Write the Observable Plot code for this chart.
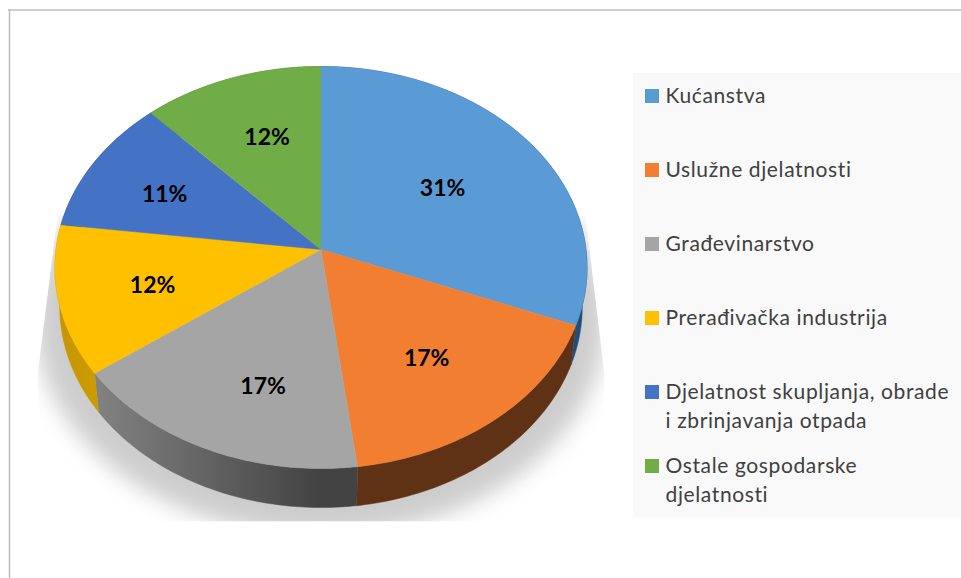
<!DOCTYPE html>
<html>
<head>
<meta charset="utf-8">
<style>html,body{margin:0;padding:0;background:#fff;overflow:hidden}svg{display:block}</style>
<script src="https://cdn.jsdelivr.net/npm/d3@7"></script>
<script src="https://cdn.jsdelivr.net/npm/@observablehq/plot@0.6"></script>
</head>
<body>
<div id="chart"></div>
<script>
const categories = ["Kućanstva", "Uslužne djelatnosti", "Građevinarstvo", "Prerađivačka industrija", "Djelatnost skupljanja, obrade\ni zbrinjavanja otpada", "Ostale gospodarske\ndjelatnosti"];
const shares = [31, 17, 17, 12, 11, 12];
const topColors = ["#5b9bd5", "#f27e32", "#a5a5a5", "#ffc000", "#4472c4", "#70ad47"];
const wallColors = ["#1f4e79", "#603215", "url(#greyWall)", "url(#goldWall)", "#2f4f8f", "#4b7530"];
const labelTurns = [0.1564, 0.3997, 0.549, 0.706, 0.8197, 0.9447];
const labelRadii = [0.567, 0.645, 0.679, 0.65, 0.668, 0.629];

// Perspective disc: apex of the wedges and the tilt of the pie
const cx = 320.5, cy = 249, rx = 265, ry = 199.4, tilt = 0.0896, depth = 39, wallShrink = 0.982;

function disc(turn, r = 1) {
  const a = turn * 2 * Math.PI, u = r * Math.sin(a), v = r * Math.cos(a), d = 1 + tilt * v;
  return {X: rx * u / d, Y: -ry * v / d};
}
const upper = (turn, r) => { const p = disc(turn, r); return {x: cx + p.X, y: cy + p.Y}; };
const lower = (turn) => { const p = disc(turn); return {x: cx + p.X * wallShrink, y: cy + p.Y + depth}; };

function arcTurns(t0, t1) {
  const n = Math.max(2, Math.ceil((t1 - t0) * 400));
  return d3.range(n + 1).map(i => t0 + (t1 - t0) * i / n);
}

const total = d3.sum(shares);
const ends = Array.from(d3.cumsum(shares), c => c / total);
const starts = ends.map((_, i) => i ? ends[i - 1] : 0);

const slices = shares.map((_, i) => {
  const turns = arcTurns(starts[i], ends[i]);
  return {
    face: [{x: cx, y: cy}, ...turns.map(t => upper(t))],
    wall: [...turns.map(t => upper(t)), ...turns.slice().reverse().map(t => lower(t))],
    color: topColors[i],
    wallColor: wallColors[i]
  };
});

// Soft shadow under the pie
const shadowOutline = arcTurns(0, 1).map(t => {
  const a = t * 2 * Math.PI;
  return {x: 320 + 285 * Math.sin(a), y: 320 - 215 * Math.cos(a)};
});

const labels = shares.map((s, i) => ({...upper(labelTurns[i], labelRadii[i]), text: s + "%"}));
const legend = categories.map((name, i) => ({
  name, color: topColors[i],
  x1: 645, x2: 659, y1: 89 + 74 * i, y2: 103 + 74 * i, tx: 665, ty: 82.5 + 74 * i
}));

const defs = () => d3.create("svg:defs").html(`
  <clipPath id="shadowClip"><polygon points="57,215 37,375 37,521 604,521 604,375 585,215"/></clipPath>
  <linearGradient id="greyWall" x1="0" x2="1" y1="0" y2="0">
    <stop offset="0" stop-color="#828282"/><stop offset="0.6" stop-color="#565656"/><stop offset="0.85" stop-color="#434343"/><stop offset="1" stop-color="#434343"/>
  </linearGradient>
  <linearGradient id="goldWall" x1="0" x2="1" y1="0" y2="0">
    <stop offset="0" stop-color="#c49500"/><stop offset="1" stop-color="#cc9c00"/>
  </linearGradient>`).node();

const shadowRender = (index, scales, values, dims, ctx, next) => {
  const g = next(index, scales, values, dims, ctx);
  g.setAttribute("clip-path", "url(#shadowClip)");
  g.querySelectorAll("path").forEach(p => p.style.filter = "blur(11px)");
  return g;
};
const spacedText = (index, scales, values, dims, ctx, next) => {
  const g = next(index, scales, values, dims, ctx);
  g.style.letterSpacing = "0.62px";
  return g;
};

const plot = Plot.plot({
  width: 961, height: 578,
  margin: 0,
  x: {domain: [0, 961], range: [0, 961], axis: null},
  y: {domain: [0, 578], range: [0, 578], axis: null},
  style: {background: "#fff"},
  marks: [
    defs,
    Plot.ruleY([9.5], {x1: 8, x2: 961, stroke: "#bfbfbf", strokeWidth: 1.5}),
    Plot.ruleX([9], {y1: 9, y2: 578, stroke: "#bfbfbf", strokeWidth: 1.5}),
    Plot.rect([{x1: 633, x2: 961, y1: 73, y2: 518}], {x1: "x1", x2: "x2", y1: "y1", y2: "y2", fill: "#f9f9f9"}),
    Plot.line(shadowOutline, {x: "x", y: "y", fill: "#cdcdcd", stroke: "none", render: shadowRender}),
    ...slices.map(s => Plot.line(s.wall, {x: "x", y: "y", fill: s.wallColor, stroke: s.wallColor, strokeWidth: 0.5})),
    ...slices.map(s => Plot.line(s.face, {x: "x", y: "y", fill: s.color, stroke: s.color, strokeWidth: 0.5})),
    Plot.text(labels, {x: "x", y: "y", text: "text", fontFamily: "Lato", fontWeight: 700, fontSize: 23, fill: "#000"}),
    Plot.rect(legend, {x1: "x1", x2: "x2", y1: "y1", y2: "y2", fill: "color"}),
    Plot.text(legend, {x: "tx", y: "ty", text: "name", textAnchor: "start", lineAnchor: "top", lineHeight: 28.5 / 21, fontFamily: "Lato", fontSize: 21, fill: "#404040", render: spacedText})
  ]
});
document.getElementById("chart").append(plot);
</script>
</body>
</html>
